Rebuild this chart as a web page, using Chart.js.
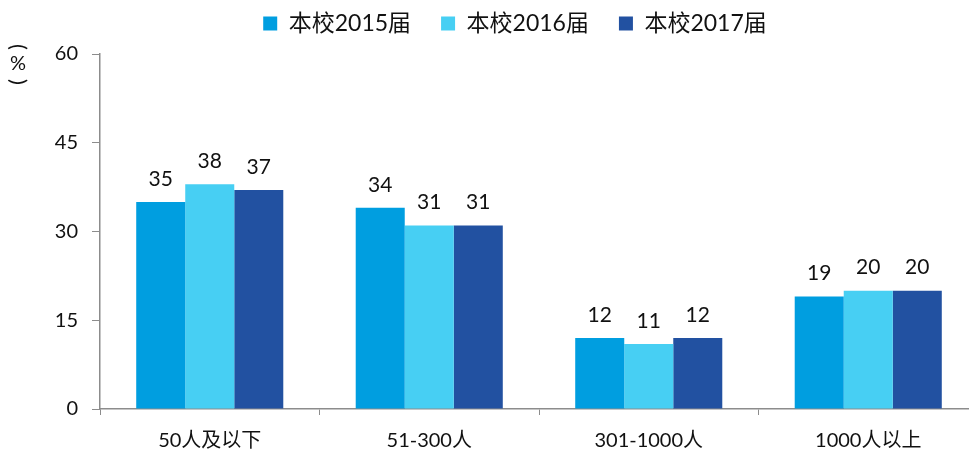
<!DOCTYPE html>
<html>
<head>
<meta charset="utf-8">
<script src="https://cdn.jsdelivr.net/npm/chart.js@4.4.1/dist/chart.umd.min.js"></script>
<style>
  html, body { margin: 0; padding: 0; background: #fff; overflow: hidden; }
  #wrap { width: 1024px; height: 457px; position: relative; }
</style>
</head>
<body>
<div id="wrap"><canvas id="chart"></canvas></div>
<script>
const categories = ['50人及以下', '51-300人', '301-1000人', '1000人以上'];
const seriesNames = ['本校2015届', '本校2016届', '本校2017届'];
const values2015 = [35, 34, 12, 19];
const values2016 = [38, 31, 11, 20];
const values2017 = [37, 31, 12, 20];
const yTicks = [0, 15, 30, 45, 60];

const FONT = "Lato, 'Noto Sans CJK SC', sans-serif";
const colors = ['#009EE0', '#47CFF3', '#2251A1'];
const axisGray = '#8c8c8c';

// value labels above the bars + vertical (%) unit mark
const labelsPlugin = {
    id: 'labels',
    afterDatasetsDraw(chart){
        const ctx = chart.ctx;
        ctx.save();
        ctx.font = '21px ' + FONT;
        ctx.fillStyle = '#111';
        ctx.textAlign = 'center';
        ctx.textBaseline = 'middle';
        chart.data.datasets.forEach((ds, i) => {
            chart.getDatasetMeta(i).data.forEach((bar, j) => {
                ctx.fillText(ds.data[j], bar.x, bar.y - 23);
            });
        });
        ctx.font = '20px ' + FONT;
        ctx.fillText('%', 18, 64);
        // rotated brackets for the vertical unit
        [['(', 47], [')', 82]].forEach(([ch, y]) => {
            ctx.save();
            ctx.translate(18, y);
            ctx.rotate(Math.PI / 2);
            ctx.font = '22px ' + FONT;
            ctx.fillText(ch, 0, 0);
            ctx.restore();
        });
        ctx.restore();
    }
};

const legendTweak = {
    id: 'legendTweak',
    beforeInit(chart){
        const fit = chart.legend.fit;
        chart.legend.fit = function(){
            fit.call(this);
            this.height = 72;
        };
    },
    afterLayout(chart){
        // centre legend like the original (it ignores the right padding)
        chart.legend.left += 26;
        chart.legend.right += 26;
    }
};

new Chart(document.getElementById('chart'), {
    type: 'bar',
    data: {
        labels: categories,
        datasets: [
            { label: seriesNames[0], data: values2015, backgroundColor: colors[0] },
            { label: seriesNames[1], data: values2016, backgroundColor: colors[1] },
            { label: seriesNames[2], data: values2017, backgroundColor: colors[2] }
        ]
    },
    options: {
        responsive: true,
        maintainAspectRatio: false,
        animation: false,
        datasets: { bar: { barPercentage: 1, categoryPercentage: 0.67 } },
        layout: { padding: { top: -18, right: 46, bottom: -10, left: 0 } },
        scales: {
            x: {
                grid: { display: true, drawOnChartArea: false, tickLength: 6, color: axisGray, offset: true },
                border: { color: axisGray, width: 1.5 },
                ticks: { font: { family: FONT, size: 20 }, color: '#111', padding: 14 }
            },
            y: {
                min: 0,
                max: 60,
                afterBuildTicks(scale){ scale.ticks = yTicks.map(v => ({ value: v })); },
                afterFit(scale){ scale.width = 100; },
                grid: { display: true, drawOnChartArea: false, tickLength: 8, color: axisGray },
                border: { color: axisGray, width: 1.5 },
                ticks: { font: { family: FONT, size: 20 }, color: '#111', padding: 14 }
            }
        },
        plugins: {
            legend: {
                position: 'top',
                labels: {
                    boxWidth: 14,
                    boxHeight: 14,
                    padding: 30,
                    color: '#111',
                    font: { family: FONT, size: 23 }
                }
            },
            tooltip: { enabled: false }
        }
    },
    plugins: [labelsPlugin, legendTweak]
});
</script>
</body>
</html>
